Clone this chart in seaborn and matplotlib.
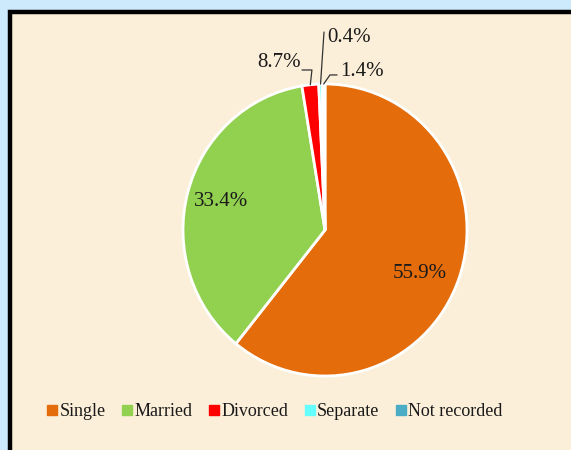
import matplotlib
matplotlib.use("Agg")
import matplotlib.pyplot as plt
from matplotlib.patches import Rectangle
from matplotlib.lines import Line2D
import numpy as np
import seaborn as sns

# slice shares as they appear in the drawing, and the printed labels
status = ["Single", "Married", "Divorced", "Separate", "Not recorded"]
slice_share = [60.8, 36.6, 1.9, 0.4, 0.3]
pct_labels = ["55.9%", "33.4%", "8.7%", "0.4%", "1.4%"]
colors = ["#e46c0a", "#92d050", "#ff0000", "#66ffff", "#4bacc6"]

sns.set_style("white")
plt.rcParams["font.family"] = ["Liberation Serif", "DejaVu Serif"]

W, H = 571, 450
fig = plt.figure(figsize=(W / 100, H / 100), dpi=100)
fig.patch.set_facecolor("#cde9fc")

# parchment panel with black frame
fig.patches.append(Rectangle((9.5 / W, -0.2), 1.2, 1 - 12 / H + 0.2,
                             transform=fig.transFigure, facecolor="#fbefd9",
                             edgecolor="black", linewidth=3.2, zorder=-5))

cx, cy, rx, ry = 325, 230, 142, 146
ax = fig.add_axes([(cx - rx) / W, (H - cy - ry) / H, 2 * rx / W, 2 * ry / H])
ax.set_zorder(2)
ax.set_facecolor("none")
wedges, _ = ax.pie(slice_share, colors=colors, startangle=90, counterclock=False,
                   wedgeprops=dict(edgecolor="white", linewidth=2))
ax.set_aspect("auto")
ax.set_xlim(-1, 1)
ax.set_ylim(-1, 1)
ax.axis("off")

def mid(w):
    return np.deg2rad((w.theta1 + w.theta2) / 2)

fs = 15
tc = "#1a1a1a"

# inside labels
for i, r, shift in [(0, 0.73, -4.5), (1, 0.76, 0.0)]:
    a = mid(wedges[i]) + np.deg2rad(shift)
    ax.text(r * np.cos(a), r * np.sin(a), pct_labels[i], ha="center", va="center",
            fontsize=fs, color=tc)

# outside labels with leader lines
lc = "#333333"
a = mid(wedges[2])
ax.plot([np.cos(a), -0.092, -0.162], [np.sin(a), 1.096, 1.096], color=lc, lw=0.9, clip_on=False)
ax.text(-0.169, 1.15, pct_labels[2], ha="right", va="center", fontsize=fs, color=tc)

a = mid(wedges[3])
ax.plot([np.cos(a), -0.007], [np.sin(a), 1.356], color=lc, lw=0.9, clip_on=False)
ax.text(0.014, 1.32, pct_labels[3], ha="left", va="center", fontsize=fs, color=tc)

a = mid(wedges[4])
ax.plot([np.cos(a), 0.035, 0.085], [np.sin(a), 1.062, 1.062], color=lc, lw=0.9, clip_on=False)
ax.text(0.106, 1.089, pct_labels[4], ha="left", va="center", fontsize=fs, color=tc)

handles = [Line2D([], [], marker="s", linestyle="none", markersize=7,
                  markerfacecolor=c, markeredgecolor=c) for c in colors]
fig.legend(handles, status, loc="center", bbox_to_anchor=(0.482, 0.085), ncol=5,
           frameon=False, fontsize=13, handlelength=0.5, handletextpad=0.15,
           columnspacing=0.95, labelcolor=tc)

fig.savefig("out.png", dpi=100, facecolor=fig.get_facecolor())
